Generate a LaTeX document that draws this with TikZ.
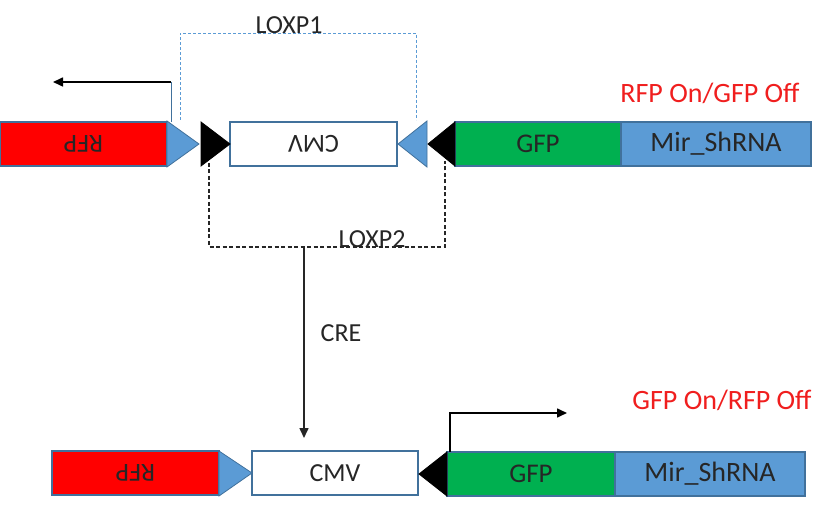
\documentclass[tikz,border=0pt]{standalone}
\usepackage{fontspec}
\setmainfont{Carlito}
\usetikzlibrary{arrows.meta}
\definecolor{bord}{HTML}{41719C}
\definecolor{lblue}{HTML}{5B9BD5}
\definecolor{gfpgreen}{HTML}{00B050}
\definecolor{rfpred}{HTML}{FF0000}
\definecolor{onred}{HTML}{F01E1E}
\definecolor{ink}{HTML}{262626}
\begin{document}
\begin{tikzpicture}[x=1pt,y=-1pt,
  txt/.style={font=\fontsize{26}{30}\selectfont, text=ink, inner sep=0pt},
  gene/.style={txt, draw=bord, line width=1.2pt, minimum height=44pt},
  big/.style={font=\fontsize{28}{32}\selectfont},
  mid/.style={font=\fontsize{27}{31}\selectfont},
  bluetri/.style={draw=bord, fill=lblue, line width=0.8pt, line join=miter},
  blacktri/.style={draw=black, fill=black, line width=0.8pt},
  lox1/.style={draw=lblue, line width=0.9pt, dash pattern=on 3pt off 2pt},
  lox2/.style={draw=ink, line width=1.8pt, dash pattern=on 4pt off 2.5pt},
  arr/.style={draw=black, line width=1.6pt, -{Triangle[length=10pt,width=9pt]}},
  state/.style={font=\fontsize{28}{32}\selectfont, text=onred, inner sep=0pt}
]
\fill[white] (0,0) rectangle (830,510);
\useasboundingbox (0,0) rectangle (830,510);

% ---------- top construct ----------
\node[gene, fill=rfpred, minimum width=167pt, rotate=180] (rfpA) at (83.5,144) {RFP};
\node[gene, fill=white, minimum width=167pt, rotate=180] (cmvA) at (313.5,144) {CMV};
\node[gene, mid, fill=gfpgreen, minimum width=166pt] (gfpA) at (538,144) {GFP};
\node[gene, big, fill=lblue, minimum width=190pt] (mirA) at (716,144) {Mir\_ShRNA};

\draw[bluetri] (167,121) -- (199,144) -- (167,167) -- cycle;
\draw[blacktri] (201,122) -- (230,144) -- (201,166) -- cycle;
\draw[bluetri] (427,121) -- (398,144) -- (427,167) -- cycle;
\draw[blacktri] (455,122) -- (428,144) -- (455,166) -- cycle;

\coordinate (l1a) at (180,120);
\coordinate (l1b) at (416,120);
\draw[lox1] (l1a) -- (180,33) -- (416,33) -- (l1b);
\node[txt, anchor=base] (loxp1) at (289,34) {LOXP1};

\coordinate (prA) at (171,122);
\coordinate (prAend) at (53,82);
\draw[draw=bord, line width=1pt] (prA) -- (171,82);
\draw[arr] (171,82) -- (prAend);

\coordinate (l2a) at (209,163);
\coordinate (l2b) at (445,161);
\draw[lox2] (l2a) -- (209,247) -- (445,247) -- (l2b);
\node[txt, anchor=base] (loxp2) at (372,248) {LOXP2};

\node[state] (stA) at (710,93) {RFP On/GFP Off};

% ---------- CRE ----------
\coordinate (creS) at (304,247);
\coordinate (creE) at (304,438);
\draw[arr, draw=ink] (creS) -- (creE);
\node[txt] (cre) at (341,333) {CRE};

% ---------- bottom construct ----------
\node[gene, fill=rfpred, minimum width=167pt, rotate=180] (rfpB) at (135.5,473) {RFP};
\node[gene, fill=white, minimum width=166pt] (cmvB) at (335,473) {CMV};
\node[gene, mid, fill=gfpgreen, minimum width=168pt] (gfpB) at (531,474) {GFP};
\node[gene, big, fill=lblue, minimum width=190pt] (mirB) at (710,474) {Mir\_ShRNA};

\draw[bluetri] (219,451) -- (252,473) -- (219,496) -- cycle;
\draw[blacktri] (447,452) -- (419,474) -- (447,496) -- cycle;

\coordinate (prB) at (450,452);
\coordinate (prBend) at (567,413);
\draw[arr] (prB) -- (450,413) -- (prBend);

\node[state] (stB) at (722,400) {GFP On/RFP Off};
\end{tikzpicture}
\end{document}
